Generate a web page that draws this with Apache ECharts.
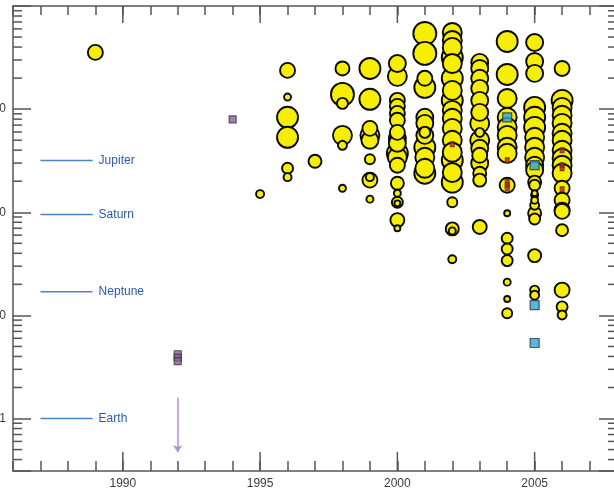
<!DOCTYPE html>
<html><head><meta charset="utf-8">
<script src="https://cdn.jsdelivr.net/npm/echarts@6/dist/echarts.min.js"></script>
<style>html,body{margin:0;padding:0;background:#fff}#c{width:614px;height:493px}</style>
</head><body><div id="c"></div>
<script>
// ---- data ----
const yearMin = 1986, yearMax = 2008;
const massMin = 0.31, massMax = 10000;
const majorYears = [1990, 1995, 2000, 2005];
const majorMasses = [1, 10, 100, 1000];
const minorMasses = [0.4,0.5,0.6,0.7,0.8,0.9, 2,3,4,5,6,7,8,9, 20,30,40,50,60,70,80,90,
                     200,300,400,500,600,700,800,900, 2000,3000,4000,5000,6000,7000,8000,9000];
const planetNames = ['Jupiter', 'Saturn', 'Neptune', 'Earth'];
const planetMass = [318, 95, 17, 1];
const refLineYears = [1987, 1988.9];

// [year, mass (Earth masses), marker weight]
const rvPoints = [
[1989,3550,7],
[1995,150,3.5],
[1996,2375,7],[1996,1310,3],[1996,833,10],[1996,533,10],[1996,267,5],[1996,219,3.5],
[1997,312,6],
[1998,2480,6.5],[1998,1390,11],[1998,1137,5],[1998,557,9],[1998,446,4],[1998,171,3],
[1999,2480,10],[1999,1245,10],[1999,651,7],[1999,557,9],[1999,499,8],[1999,327,4.5],[1999,205,7],[1999,219,3.5],[1999,134,3],
[2000,2770,8],[2000,2080,9],[2000,1217,7],[2000,1064,7],[2000,910,7],[2000,779,7],[2000,595,7],[2000,521,8],[2000,467,8],[2000,373,10],[2000,341,9],[2000,286,7],[2000,191,6],[2000,153,3],[2000,125,5],[2000,122,2.5],[2000,84,6.5],[2000,70,2.5],
[2001,5420,11],[2001,3470,11],[2001,1990,7],[2001,1625,10],[2001,833,8],[2001,728,8],[2001,595,5],[2001,557,8],[2001,427,10],[2001,341,9],[2001,267,9],[2001,239,10],
[2002,5540,9],[2002,4630,9],[2002,3970,9],[2002,3170,10],[2002,2770,9],[2002,1990,10],[2002,1520,9],[2002,1217,10],[2002,973,9],[2002,815,9],[2002,651,9],[2002,499,9],[2002,382,9],[2002,319,10],[2002,243,9],[2002,196,10],[2002,125,4.5],[2002,69,6],[2002,66,3],[2002,35,3.5],
[2003,2840,8],[2003,2480,8],[2003,1990,8],[2003,1590,8],[2003,1217,8],[2003,930,8],[2003,728,9],[2003,595,4],[2003,499,9],[2003,417,8],[2003,357,7],[2003,299,8],[2003,239,6],[2003,205,6],[2003,72,6.5],
[2004,4530,10],[2004,2170,10],[2004,1270,9],[2004,833,9],[2004,666,9],[2004,557,9],[2004,427,9],[2004,373,9],[2004,183,7],[2004,98,2.5],[2004,56,5],[2004,44,5],[2004,34,5],[2004,21,3],[2004,14.4,2.5],[2004,10.5,4.5],
[2005,4430,8],[2005,2900,8],[2005,2220,8],[2005,1040,10],[2005,833,10],[2005,666,10],[2005,533,9],[2005,427,9],[2005,341,9],[2005,286,8],[2005,256,8],[2005,196,6],[2005,183,5],[2005,153,2.5],[2005,146,3],[2005,131,3],[2005,117,4],[2005,98,6],[2005,86,5],[2005,38,6],[2005,17.6,4],[2005,15.7,4],
[2006,2480,7],[2006,1217,10],[2006,1040,9],[2006,871,9],[2006,728,9],[2006,583,9],[2006,499,9],[2006,399,9],[2006,334,9],[2006,286,9],[2006,239,9],[2006,171,7],[2006,131,7],[2006,105,7],[2006,102,7],[2006,67,5.5],[2006,17.6,7],[2006,12.1,5],[2006,10.1,4]
];
const microlensPoints = [[2004,833],[2005,286],[2005,12.6],[2005,5.4]];
const pulsarPoints = [[1992,4.2],[1992,3.9],[1992,3.6],[1994,796]];
const transitPoints = [[2002,456],[2004,319],[2004,196],[2004,183],[2004,171],[2006,399],[2006,286],[2006,268],[2006,167]];
const arrowYear = 1992, arrowFrom = 1.6, arrowTo = 0.47;

// ---- chart ----
const axisColor = '#555';
const chart = echarts.init(document.getElementById('c'), null, {renderer: 'canvas'});

const xBase = {
  type: 'value', min: yearMin, max: yearMax, interval: 1,
  axisLine: {show: true, lineStyle: {color: axisColor, width: 1.5}},
  axisTick: {show: true, inside: true, length: 10, lineStyle: {color: axisColor, width: 1.5}},
  splitLine: {show: false}
};
const yBase = {
  type: 'log', logBase: 10, min: massMin, max: massMax,
  axisLine: {show: true, lineStyle: {color: axisColor, width: 1.5}},
  axisTick: {show: true, inside: true, length: 18, lineStyle: {color: axisColor, width: 1.5}},
  splitLine: {show: false}
};
const isMajorMass = v => majorMasses.some(m => Math.abs(v - m) / m < 1e-6);

const tickSeries = {
  type: 'custom', silent: true, z: 5,
  data: minorMasses.map(v => [yearMin, v, 0]).concat(majorYears.map(y => [y, massMin, 1])),
  renderItem: function (params, api) {
    const kind = api.value(2);
    const st = {stroke: axisColor, lineWidth: 1.5};
    if (kind === 0) {
      const v = api.value(1);
      const pl = api.coord([yearMin, v]);
      const pr = api.coord([yearMax, v]);
      return {type: 'group', children: [
        {type: 'line', shape: {x1: pl[0], y1: pl[1], x2: pl[0] + 9, y2: pl[1]}, style: st},
        {type: 'line', shape: {x1: pr[0], y1: pr[1], x2: pr[0] - 9, y2: pr[1]}, style: st}
      ]};
    } else {
      const yr = api.value(0);
      const pb = api.coord([yr, massMin]);
      const pt = api.coord([yr, massMax]);
      return {type: 'group', children: [
        {type: 'line', shape: {x1: pb[0], y1: pb[1], x2: pb[0], y2: pb[1] - 19}, style: st},
        {type: 'line', shape: {x1: pt[0], y1: pt[1], x2: pt[0], y2: pt[1] + 17}, style: st}
      ]};
    }
  }
};

const planetSeries = planetNames.map((name, i) => ({
  type: 'line', name: name, silent: true, symbol: 'none', z: 3,
  data: refLineYears.map(y => [y, planetMass[i]]),
  lineStyle: {color: '#4a84c6', width: 1.5},
  endLabel: {show: true, formatter: name, color: '#2a5aa8', fontSize: 12,
             fontFamily: 'Liberation Sans, Arial, sans-serif', distance: 6}
}));

const rvSorted = rvPoints.slice().sort((a, b) => b[2] - a[2]);

chart.setOption({
  animation: false,
  backgroundColor: '#fff',
  grid: {left: 13, top: 6, width: 604, height: 465, containLabel: false, outerBoundsMode: 'none'},
  xAxis: [
    Object.assign({}, xBase, {position: 'bottom',
      axisLabel: {show: true, margin: 7, color: '#3a3a3a', fontSize: 12,
        fontFamily: 'Liberation Sans, Arial, sans-serif',
        formatter: v => (majorYears.indexOf(Math.round(v)) >= 0 && Math.abs(v - Math.round(v)) < 1e-6) ? String(Math.round(v)) : ''}}),
    Object.assign({}, xBase, {position: 'top', axisTick: {show: true, inside: true, length: 9, lineStyle: {color: axisColor, width: 1.5}}, axisLabel: {show: false}})
  ],
  yAxis: [
    Object.assign({}, yBase, {position: 'left',
      axisLabel: {show: true, margin: 7, color: '#3a3a3a', fontSize: 12,
        fontFamily: 'Liberation Sans, Arial, sans-serif',
        formatter: v => isMajorMass(v) ? String(Math.round(v)) : ''}}),
    Object.assign({}, yBase, {position: 'right', axisLabel: {show: false}})
  ],
  series: [
    tickSeries,
    ...planetSeries,
    {
      type: 'scatter', name: 'radial velocity', symbol: 'circle', z: 4,
      data: rvSorted,
      symbolSize: v => v[2] * 2 + 1,
      itemStyle: {color: '#f6ee00', borderColor: '#0a0a0a', borderWidth: 1.9, opacity: 1}
    },
    {
      type: 'scatter', name: 'transit', symbol: 'rect', z: 4,
      data: transitPoints, symbolSize: [4, 5],
      itemStyle: {color: '#e8101a', borderColor: '#333', borderWidth: 1}
    },
    {
      type: 'scatter', name: 'microlensing', symbol: 'rect', z: 4,
      data: microlensPoints, symbolSize: 9,
      itemStyle: {color: '#27a6de', borderColor: '#333', borderWidth: 1.2}
    },
    {
      type: 'scatter', name: 'pulsar timing', symbol: 'rect', z: 4,
      data: pulsarPoints, symbolSize: 7,
      itemStyle: {color: '#8a5ea4', borderColor: '#3a3a3a', borderWidth: 1.2},
      markLine: {
        silent: true, symbol: ['none', 'arrow'], symbolSize: 7, animation: false,
        label: {show: false},
        lineStyle: {color: '#b08ed2', width: 1.5, type: 'solid'},
        data: [[{coord: [arrowYear, arrowFrom]}, {coord: [arrowYear, arrowTo]}]]
      }
    }
  ]
});
</script>
</body></html>
